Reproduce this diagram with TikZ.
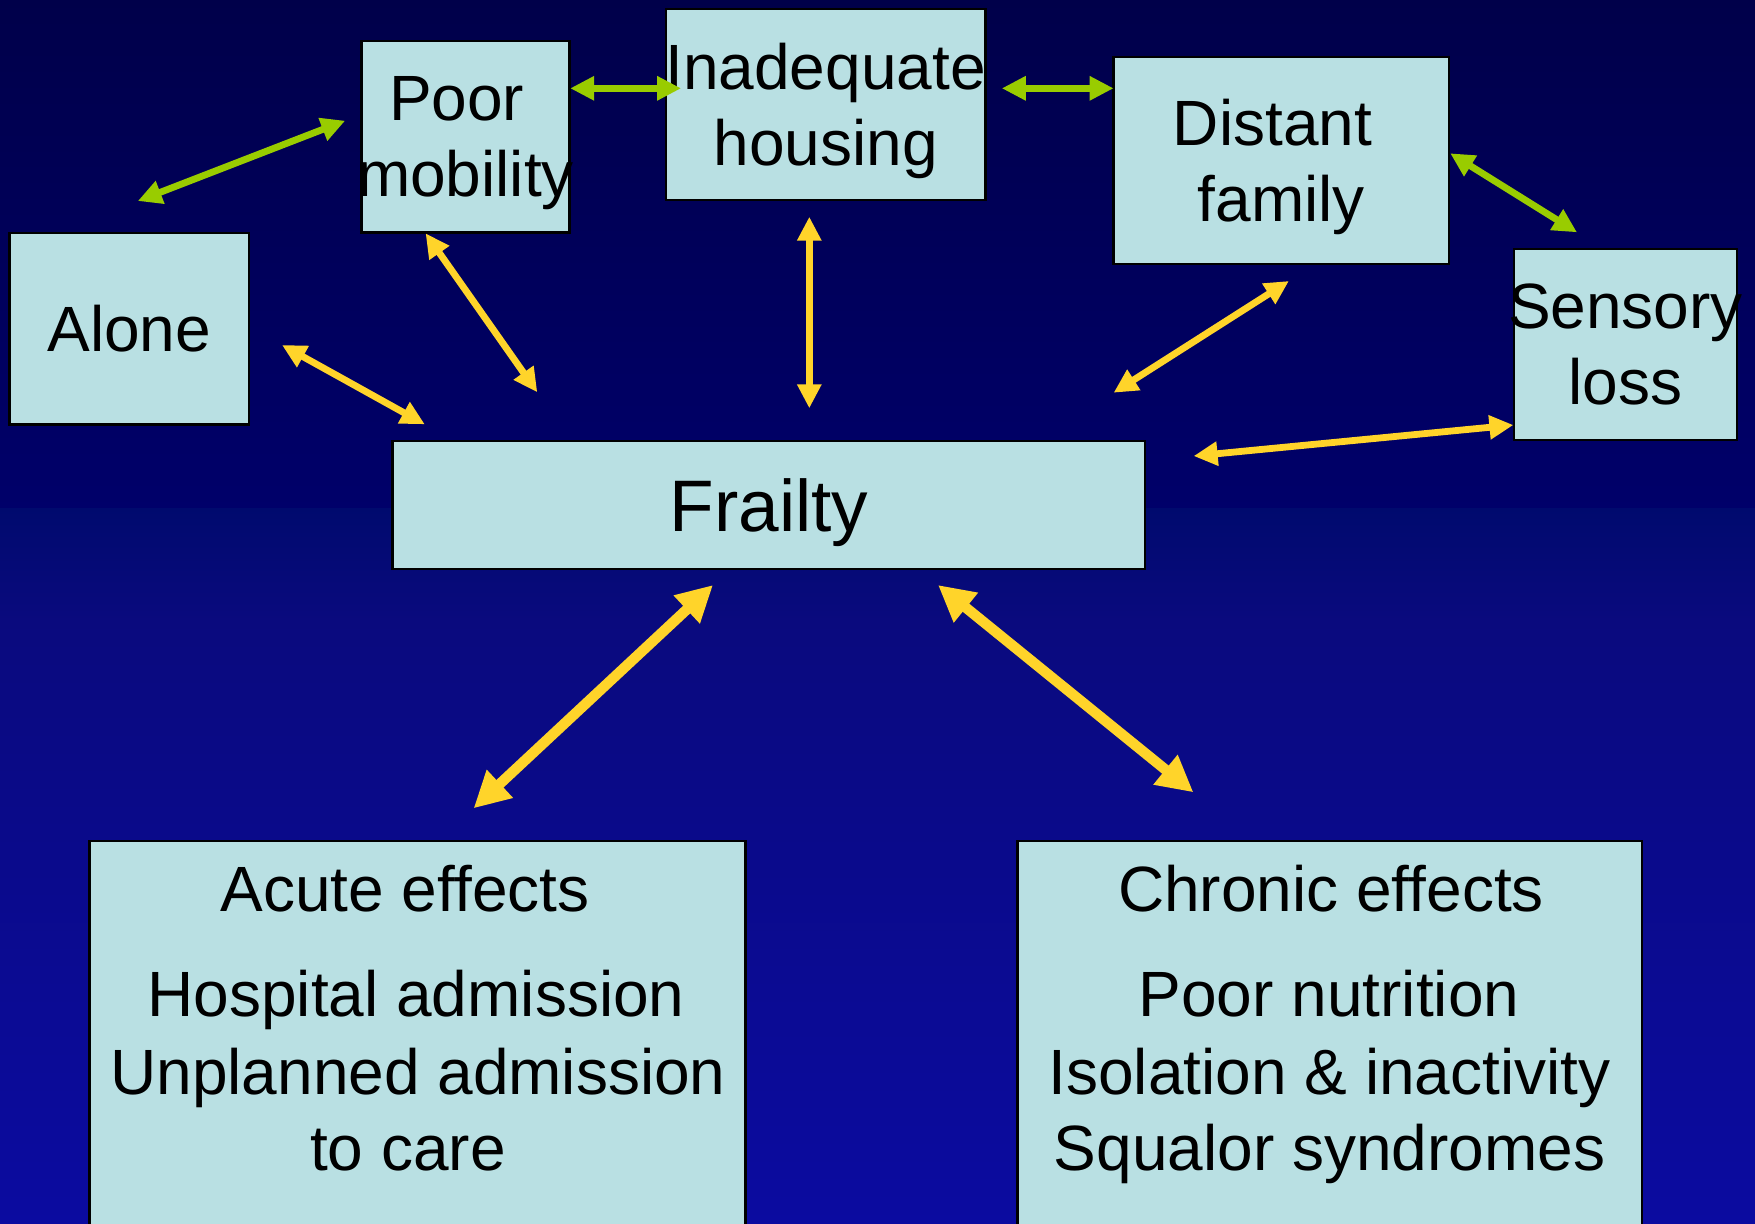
\documentclass[tikz,border=0pt]{standalone}
\usepackage{fontspec}
\setmainfont{Liberation Sans}
\usetikzlibrary{arrows.meta}
\definecolor{boxfill}{HTML}{B9E0E3}
\definecolor{grn}{HTML}{99CC00}
\definecolor{ylw}{HTML}{FFD42A}
\definecolor{bgtop}{HTML}{00004A}
\definecolor{bgmid}{HTML}{00006A}
\definecolor{bgband}{HTML}{000A6E}
\definecolor{bglow}{HTML}{0A0A7E}
\definecolor{bgbot}{HTML}{0B0BA0}
\newcommand\zw[1]{\makebox[0pt]{#1}}
\begin{document}
\begin{tikzpicture}[x=0.5pt,y=-0.5pt,
  box/.style={draw=black, line width=1.2pt, fill=boxfill, inner sep=0pt,
    align=center, font=\fontsize{32}{38}\selectfont, text depth=0pt},
  linetext/.style={anchor=base, inner sep=0pt, font=\fontsize{32}{38}\selectfont},
  thinarrow/.style={line width=3.4pt, {Triangle[length=12pt,width=11.5pt]}-{Triangle[length=12pt,width=11.5pt]}},
  thickarrow/.style={line width=5.2pt, {Triangle[length=18pt,width=18pt]}-{Triangle[length=18pt,width=18pt]}}]
\clip (0,0) rectangle (1755,1223);
% background
\shade[top color=bgtop, bottom color=bgmid] (0,0) rectangle (1755,509);
\shade[top color=bgband, bottom color=bglow] (0,508) rectangle (1755,621);
\shade[top color=bglow, bottom color=bgbot] (0,620) rectangle (1755,1223);
% boxes
\node[box, minimum width=103.95pt, minimum height=95.65pt] (poor) at (465.55,136.65) {\zw{Poor\hspace*{0.278em}}\\\zw{mobility}};
\node[box, minimum width=159.8pt, minimum height=95.5pt] (inad) at (825.6,104.5) {\zw{Inadequate}\\\zw{housing}};
\node[box, minimum width=167.7pt, minimum height=103.5pt] (dist) at (1281.3,160.5) {\zw{Distant\hspace*{0.278em}}\\\zw{family}};
\node[box, minimum width=111.7pt, minimum height=95.65pt] (sens) at (1625.5,344.35) {\zw{Sensory}\\\zw{loss}};
\node[box, minimum width=119.75pt, minimum height=95.8pt] (alone) at (129.35,328.5) {Alone};
\node[box, minimum width=376.3pt, minimum height=64pt, font=\fontsize{36.5}{44}\selectfont] (frail) at (768.9,504.7) {Frailty};
\node[box, minimum width=327.95pt, minimum height=199.65pt] (acute) at (417.45,1040.35) {};
\node[box, minimum width=312.3pt, minimum height=199.65pt] (chronic) at (1329.6,1040.35) {};
% texts of lower boxes
\node[linetext] (acute1) at (405,911.7) {Acute effects};
\node[linetext] (acute2) at (416,1016.7) {Hospital admission};
\node[linetext] (acute3) at (418,1094) {Unplanned admission};
\node[linetext] (acute4) at (408,1170.7) {to care};
\node[linetext] (chron1) at (1331,911.7) {Chronic effects};
\node[linetext] (chron2) at (1329,1016.7) {Poor nutrition};
\node[linetext] (chron3) at (1329.6,1094) {Isolation \& inactivity};
\node[linetext] (chron4) at (1329.6,1170.7) {Squalor syndromes};
% arrow end points
\coordinate (g1a) at (137.8,201);   \coordinate (g1b) at (345.2,120.7);
\coordinate (g2a) at (570.2,88.3);  \coordinate (g2b) at (681.1,88.3);
\coordinate (g3a) at (1001.8,88.3); \coordinate (g3b) at (1113.6,88.3);
\coordinate (g4a) at (1450.2,153.3); \coordinate (g4b) at (1577,232.3);
\coordinate (y1a) at (282,345);     \coordinate (y1b) at (424.8,424.3);
\coordinate (y2a) at (425.6,233.3); \coordinate (y2b) at (537.3,392.3);
\coordinate (y3a) at (809.3,216.7); \coordinate (y3b) at (809.3,408.3);
\coordinate (y4a) at (1113.6,392.7); \coordinate (y4b) at (1288.9,281);
\coordinate (y5a) at (1193.6,456);  \coordinate (y5b) at (1513.4,425);
\coordinate (y6a) at (713,585);     \coordinate (y6b) at (473.6,808.3);
\coordinate (y7a) at (938,585);     \coordinate (y7b) at (1193.4,792.3);
% green arrows
\draw[thinarrow, grn] (g1a) -- (g1b);
\draw[thinarrow, grn] (g2a) -- (g2b);
\draw[thinarrow, grn] (g3a) -- (g3b);
\draw[thinarrow, grn] (g4a) -- (g4b);
% yellow arrows
\draw[thinarrow, ylw] (y1a) -- (y1b);
\draw[thinarrow, ylw] (y2a) -- (y2b);
\draw[thinarrow, ylw] (y3a) -- (y3b);
\draw[thinarrow, ylw] (y4a) -- (y4b);
\draw[thinarrow, ylw] (y5a) -- (y5b);
\draw[thickarrow, ylw] (y6a) -- (y6b);
\draw[thickarrow, ylw] (y7a) -- (y7b);
\end{tikzpicture}
\end{document}
